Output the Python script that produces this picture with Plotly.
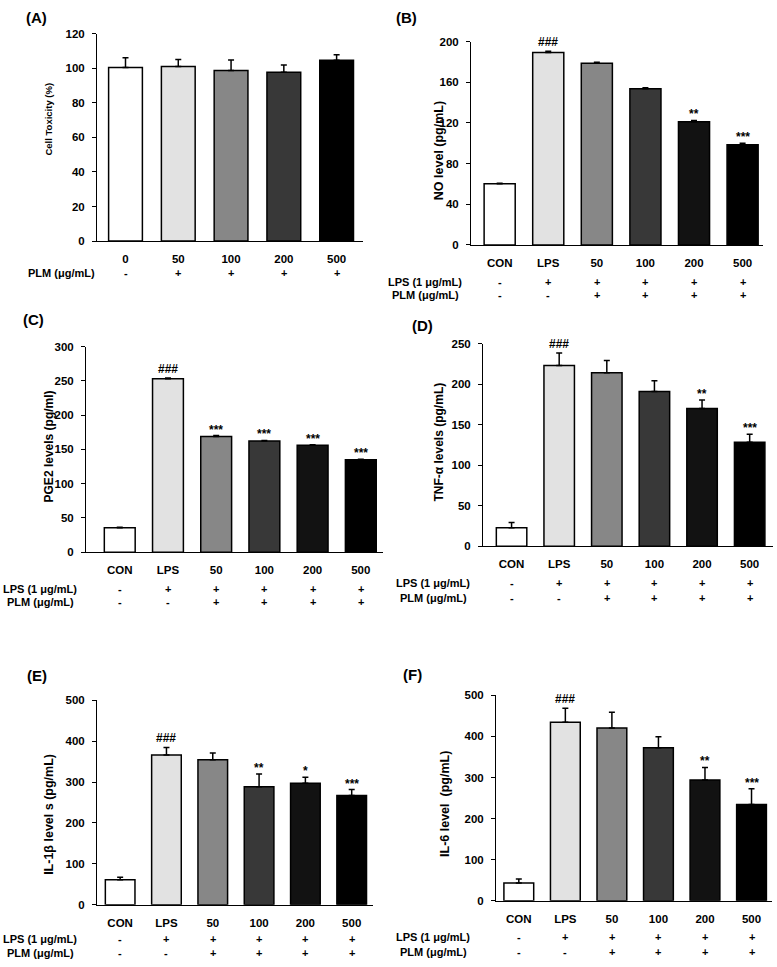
import plotly.graph_objects as go

W, H = 777, 967

# ---------------- data ----------------
cats_A = ["0", "50", "100", "200", "500"]
cats = ["CON", "LPS", "50", "100", "200", "500"]

A_vals = [100.4, 101.0, 98.7, 97.7, 104.6]
A_err = [5.6, 4.0, 6.1, 4.2, 3.2]
A_plm = ["-", "+", "+", "+", "+"]

B_vals = [60.1, 189.3, 178.7, 153.5, 121.2, 98.5]
B_err = [0.6, 1.2, 1.0, 1.0, 1.3, 1.6]
B_sig = ["", "###", "", "", "**", "***"]

C_vals = [35.5, 253.4, 169.0, 162.2, 156.0, 134.9]
C_err = [1.0, 1.0, 1.2, 1.0, 0.8, 0.8]
C_sig = ["", "###", "***", "***", "***", "***"]

D_vals = [22.8, 223.2, 214.2, 191.0, 170.2, 128.3]
D_err = [6.5, 15.5, 15.0, 13.4, 10.2, 10.1]
D_sig = ["", "###", "", "", "**", "***"]

E_vals = [61.3, 366.0, 354.8, 288.7, 296.8, 267.0]
E_err = [5.7, 18.7, 16.2, 31.3, 15.2, 14.5]
E_sig = ["", "###", "", "**", "*", "***"]

F_vals = [43.3, 434.3, 420.7, 372.6, 294.0, 234.0]
F_err = [9.6, 34.5, 38.3, 26.4, 30.5, 38.4]
F_sig = ["", "###", "", "", "**", "***"]

lps_row = ["-", "+", "+", "+", "+", "+"]
plm_row = ["-", "-", "+", "+", "+", "+"]

colors6 = ["#ffffff", "#e2e2e2", "#878787", "#383838", "#121212", "#000000"]
colors5 = ["#ffffff", "#e2e2e2", "#878787", "#383838", "#000000"]

# ---------------- layout specs (pixel geometry) ----------------
FONT = "Liberation Sans, Arial, sans-serif"

panels = [
    dict(label="(A)", lab_xy=(36, 12), cats=cats_A, vals=A_vals, err=A_err, sig=[""] * 5,
         colors=colors5, x=(97, 363), y=(28, 238), ymax=120, dtick=20, xr=(-0.54, 4.5),
         title="Cell Toxicity (%)", title_xy=(49, 114), title_size=9.5,
         rows=[("PLM (μg/mL)", A_plm, 270)], row_center=61),
    dict(label="(B)", lab_xy=(406, 12), cats=cats, vals=B_vals, err=B_err, sig=B_sig,
         colors=colors6, x=(471, 763), y=(36, 242), ymax=200, dtick=40, xr=(-0.59, 5.42),
         title="NO level (pg/mL)", title_xy=(439, 147), title_size=12.5,
         rows=[("LPS (1 μg/mL)", lps_row, 279), ("PLM (μg/mL)", plm_row, 293)], row_center=425),
    dict(label="(C)", lab_xy=(33, 317), cats=cats, vals=C_vals, err=C_err, sig=C_sig,
         colors=colors6, x=(86, 383), y=(345, 553), ymax=300, dtick=50, xr=(-0.7, 5.46),
         title="PGE2 levels (pg/ml)", title_xy=(49, 446), title_size=12,
         rows=[("LPS (1 μg/mL)", lps_row, 590), ("PLM (μg/mL)", plm_row, 603)], row_center=40),
    dict(label="(D)", lab_xy=(422, 324), cats=cats, vals=D_vals, err=D_err, sig=D_sig,
         colors=colors6, x=(483, 773), y=(342, 547), ymax=250, dtick=50, xr=(-0.6, 5.49),
         title="TNF-α levels (pg/mL)", title_xy=(439, 442), title_size=12,
         rows=[("LPS (1 μg/mL)", lps_row, 584), ("PLM (μg/mL)", plm_row, 599)], row_center=433),
    dict(label="(E)", lab_xy=(37, 678), cats=cats, vals=E_vals, err=E_err, sig=E_sig,
         colors=colors6, x=(97, 373), y=(703, 910), ymax=500, dtick=100, xr=(-0.5, 5.46),
         title="IL-1β level s (pg/mL)", title_xy=(49, 818), title_size=12.5,
         rows=[("LPS (1 μg/mL)", lps_row, 945), ("PLM (μg/mL)", plm_row, 959)], row_center=40),
    dict(label="(F)", lab_xy=(412, 677), cats=cats, vals=F_vals, err=F_err, sig=F_sig,
         colors=colors6, x=(496, 772), y=(698, 906), ymax=500, dtick=100, xr=(-0.49, 5.44),
         title="IL-6 level  (pg/mL)", title_xy=(445, 808), title_size=12.5,
         rows=[("LPS (1 μg/mL)", lps_row, 943), ("PLM (μg/mL)", plm_row, 958)], row_center=433),
]


def px(xp):
    return xp / W


def py(yp):
    return 1 - yp / H


fig = go.Figure()
annotations = []
layout = dict(
    width=W, height=H, margin=dict(l=0, r=0, t=0, b=0),
    paper_bgcolor="white", plot_bgcolor="white", showlegend=False,
    font=dict(family=FONT, size=11, color="black", weight="bold"),
)

for i, p in enumerate(panels):
    n = i + 1
    xa = "x" if n == 1 else f"x{n}"
    ya = "y" if n == 1 else f"y{n}"
    xkey = "xaxis" if n == 1 else f"xaxis{n}"
    ykey = "yaxis" if n == 1 else f"yaxis{n}"
    idx = list(range(len(p["cats"])))

    fig.add_trace(go.Bar(
        x=idx, y=p["vals"], xaxis=xa, yaxis=ya, width=0.64,
        marker=dict(color=p["colors"], line=dict(color="black", width=1.5)),
        error_y=dict(type="data", symmetric=False, array=p["err"],
                     arrayminus=[0] * len(p["err"]), color="black",
                     thickness=1.5, width=3),
    ))

    layout[xkey] = dict(
        domain=[px(p["x"][0]), px(p["x"][1])], anchor=ya, range=list(p["xr"]),
        tickmode="array", tickvals=idx, ticktext=p["cats"],
        showline=True, linecolor="black", linewidth=1.2, showgrid=False,
        zeroline=False, ticks="outside", ticklen=7, tickcolor="rgba(0,0,0,0)",
        tickfont=dict(size=11.5, family=FONT, weight="bold"), fixedrange=True,
    )
    layout[ykey] = dict(
        domain=[py(p["y"][1]), py(p["y"][0])], anchor=xa, range=[0, p["ymax"]],
        dtick=p["dtick"], tick0=0, showline=True, linecolor="black", linewidth=1,
        showgrid=False, zeroline=False, ticks="outside", ticklen=4,
        tickcolor="black", ticklabelstandoff=5,
        tickfont=dict(size=11.5, family=FONT, weight="bold"), fixedrange=True,
    )

    # panel label
    annotations.append(dict(
        text=p["label"], xref="paper", yref="paper",
        x=px(p["lab_xy"][0]), y=py(p["lab_xy"][1]), xanchor="center", yanchor="middle",
        showarrow=False, font=dict(size=15, family=FONT, weight="bold")))
    # y-axis title
    annotations.append(dict(
        text=p["title"], xref="paper", yref="paper", textangle=-90,
        x=px(p["title_xy"][0]), y=py(p["title_xy"][1]), xanchor="center", yanchor="middle",
        showarrow=False, font=dict(size=p["title_size"], family=FONT, weight="bold")))
    # significance marks
    for j, s in enumerate(p["sig"]):
        if s:
            annotations.append(dict(
                text=s, xref=xa, yref=ya, x=j, y=p["vals"][j] + p["err"][j],
                xanchor="center", yanchor="bottom",
                yshift=(0 if s.startswith("#") else -3), showarrow=False,
                font=dict(size=12, family=FONT, weight="bold")))
    # treatment rows
    for (rlabel, signs, ry) in p["rows"]:
        annotations.append(dict(
            text=rlabel, xref="paper", yref="paper", x=px(p["row_center"]), y=py(ry),
            xanchor="center", yanchor="middle", showarrow=False,
            font=dict(size=11, family=FONT, weight="bold")))
        for j, s in enumerate(signs):
            annotations.append(dict(
                text=s, xref=xa, yref="paper", x=j, y=py(ry),
                xanchor="center", yanchor="middle", showarrow=False,
                font=dict(size=11, family=FONT, weight="bold")))

layout["annotations"] = annotations
fig.update_layout(**layout)
fig.write_html(
    "out.html",
    config={"displayModeBar": False},
    post_script="document.body.style.margin='0';document.body.style.overflow='hidden';",
)
